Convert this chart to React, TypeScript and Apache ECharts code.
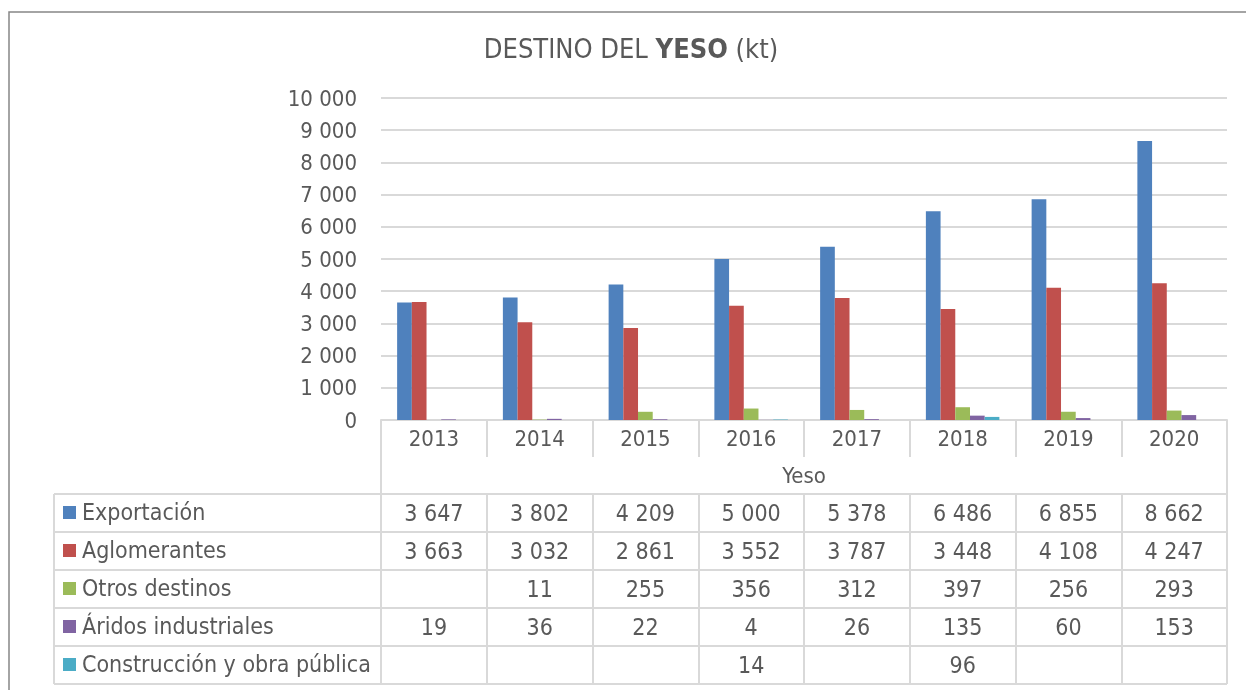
import React, { useEffect, useRef } from "react";
import * as echarts from "echarts";

const years = ["2013", "2014", "2015", "2016", "2017", "2018", "2019", "2020"];
const seriesNames = [
  "Exportación",
  "Aglomerantes",
  "Otros destinos",
  "Áridos industriales",
  "Construcción y obra pública",
];
const exportacion = [3647, 3802, 4209, 5000, 5378, 6486, 6855, 8662];
const aglomerantes = [3663, 3032, 2861, 3552, 3787, 3448, 4108, 4247];
const otrosDestinos = [null, 11, 255, 356, 312, 397, 256, 293];
const aridosIndustriales = [19, 36, 22, 4, 26, 135, 60, 153];
const construccion = [null, null, null, 14, null, 96, null, null];
const colors = ["#4f81bd", "#c0504d", "#9bbb59", "#8064a2", "#4bacc6"];
const groupLabel = "Yeso";

const allSeries = [exportacion, aglomerantes, otrosDestinos, aridosIndustriales, construccion];

const FONT = 'Tahoma, "DejaVu Sans Condensed", "DejaVu Sans", sans-serif';
const TXT = "#595959";
const LINE = "#d9d9d9";

const fmt = (v: number | null) => {
  if (v === null || v === undefined) return "";
  return String(v).replace(/\B(?=(\d{3})+(?!\d))/g, " ");
};

export default function App() {
  const ref = useRef<HTMLDivElement>(null);
  useEffect(() => {
    if (!ref.current) return;
    const chart = echarts.init(ref.current, null, { renderer: "svg" });
    const gridLeft = 381;
    const gridRight = 1227;
    const gridTop = 98;
    const gridBottom = 420;
    const tableLeft = 54;
    const rowH = 38;
    const yearRowBottom = 457;
    const dataTop = 494;
    const nRows = allSeries.length;
    const tableBottom = dataTop + rowH * nRows;

    const xAxes: any[] = [
      {
        type: "category",
        data: years,
        position: "bottom",
        axisLine: { show: true, lineStyle: { color: LINE, width: 2 } },
        axisTick: { show: true, length: yearRowBottom - gridBottom, interval: 0, lineStyle: { color: LINE, width: 2 } },
        axisLabel: { fontSize: 22, color: TXT, fontFamily: FONT, margin: 18, verticalAlign: "middle", interval: 0 },
      },
    ];
    allSeries.forEach((arr, i) => {
      xAxes.push({
        type: "category",
        data: years,
        position: "bottom",
        offset: dataTop - gridBottom + rowH * i,
        axisLine: { show: true, lineStyle: { color: LINE, width: 2 } },
        axisTick: { show: true, length: rowH, interval: 0, lineStyle: { color: LINE, width: 2 } },
        axisLabel: {
          fontSize: 23,
          color: TXT,
          fontFamily: FONT,
          margin: 19,
          verticalAlign: "middle",
          interval: 0,
          formatter: (_v: string, idx: number) => fmt(arr[idx] as any),
        },
      });
    });

    const graphics: any[] = [
      {
        type: "rect",
        shape: { x: 9, y: 12, width: 1260, height: 700 },
        style: { fill: "none", stroke: "#868686", lineWidth: 1.5 },
        silent: true,
      },
      {
        type: "text",
        x: 631,
        y: 48,
        style: {
          text: "{a|DESTINO DEL }{b|YESO}{a| (kt)}",
          align: "center",
          verticalAlign: "middle",
          rich: {
            a: { fontSize: 27, fontFamily: FONT, fill: TXT, color: TXT },
            b: { fontSize: 27, fontFamily: FONT, fill: TXT, color: TXT, fontWeight: "bold" },
          },
        },
      },
      {
        type: "text",
        x: (gridLeft + gridRight) / 2,
        y: (yearRowBottom + dataTop) / 2,
        style: { text: groupLabel, align: "center", verticalAlign: "middle", fontSize: 22, fontFamily: FONT, fill: TXT },
      },
      { type: "line", shape: { x1: gridLeft, y1: gridBottom, x2: gridLeft, y2: tableBottom }, style: { stroke: LINE, lineWidth: 2 } },
      { type: "line", shape: { x1: gridRight, y1: gridBottom, x2: gridRight, y2: tableBottom }, style: { stroke: LINE, lineWidth: 2 } },
      { type: "line", shape: { x1: tableLeft, y1: dataTop, x2: tableLeft, y2: tableBottom }, style: { stroke: LINE, lineWidth: 2 } },
    ];
    for (let i = 0; i <= nRows; i++) {
      const y = dataTop + rowH * i;
      graphics.push({
        type: "line",
        shape: { x1: tableLeft, y1: y, x2: i === nRows ? gridRight : gridLeft, y2: y },
        style: { stroke: LINE, lineWidth: 2 },
      });
    }
    seriesNames.forEach((name, i) => {
      const cy = dataTop + rowH * i + rowH / 2;
      graphics.push({
        type: "rect",
        shape: { x: 63, y: cy - 7, width: 13, height: 13 },
        style: { fill: colors[i] },
      });
      graphics.push({
        type: "text",
        x: 82,
        y: cy - 1,
        style: { text: name, align: "left", verticalAlign: "middle", fontSize: 23, fontFamily: FONT, fill: TXT },
      });
    });

    chart.setOption({
      animation: false,
      color: colors,
      grid: { left: gridLeft, right: 1246 - gridRight, top: gridTop, bottom: 690 - gridBottom, containLabel: false },
      xAxis: xAxes,
      yAxis: {
        type: "value",
        min: 0,
        max: 10000,
        interval: 1000,
        axisLine: { show: false },
        axisTick: { show: false },
        splitLine: { lineStyle: { color: LINE, width: 2 } },
        axisLabel: { fontSize: 22, color: TXT, fontFamily: FONT, margin: 24, formatter: (v: number) => fmt(v) },
      },
      series: allSeries.map((arr, i) => ({
        name: seriesNames[i],
        type: "bar",
        xAxisIndex: 0,
        data: arr,
        barWidth: 14.7,
        barGap: "0%",
        itemStyle: { color: colors[i] },
      })),
      graphic: graphics,
    });
    return () => chart.dispose();
  }, []);
  return <div ref={ref} style={{ position: "fixed", left: 0, top: 0, width: 1246, height: 690 }} />;
}
